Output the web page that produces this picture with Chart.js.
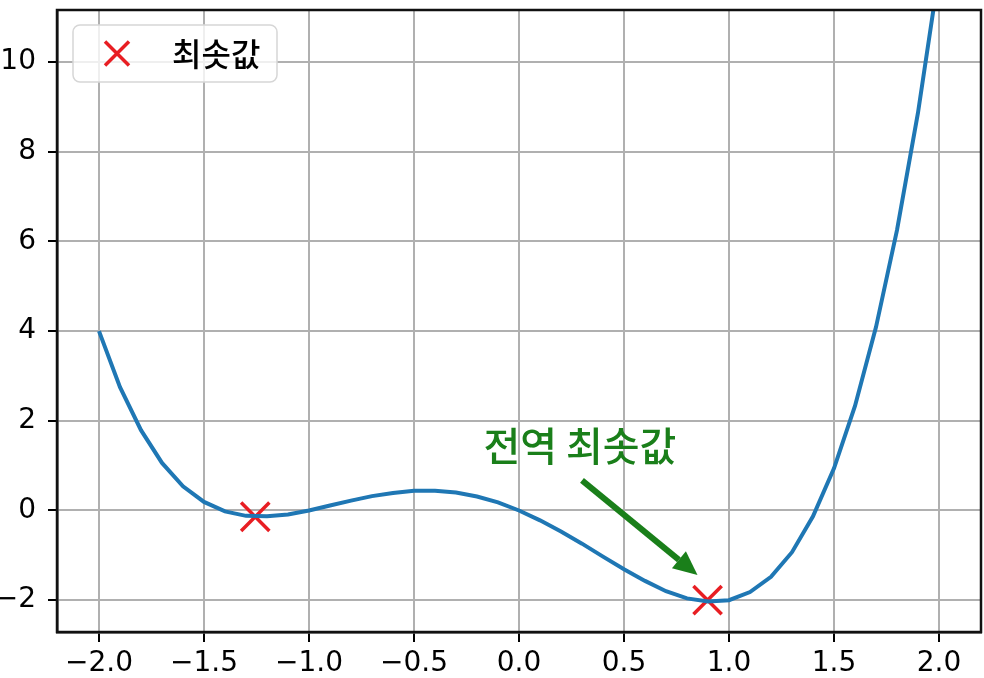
<!DOCTYPE html>
<html>
<head>
<meta charset="utf-8">
<script src="https://cdn.jsdelivr.net/npm/chart.js@4.4.1/dist/chart.umd.min.js"></script>
<style>
  html, body { margin: 0; padding: 0; background: #fff; }
</style>
</head>
<body>
<canvas id="chart" width="984" height="678"></canvas>
<script>
// curve samples
const xValues = [-2.0, -1.9, -1.8, -1.7, -1.6, -1.5, -1.4, -1.3, -1.2, -1.1, -1.0,
  -0.9, -0.8, -0.7, -0.6, -0.5, -0.4, -0.3, -0.2, -0.1, 0.0,
  0.1, 0.2, 0.3, 0.4, 0.5, 0.6, 0.7, 0.8, 0.9, 1.0,
  1.1, 1.2, 1.3, 1.4, 1.5, 1.6, 1.7, 1.8, 1.9, 2.0];
const yValues = [4.00, 2.75, 1.79, 1.06, 0.54, 0.19, -0.02, -0.12, -0.13, -0.09, 0.00,
  0.11, 0.22, 0.32, 0.39, 0.44, 0.44, 0.40, 0.31, 0.18, 0.00,
  -0.22, -0.47, -0.74, -1.03, -1.31, -1.57, -1.80, -1.96, -2.03, -2.00,
  -1.82, -1.48, -0.93, -0.13, 0.94, 2.33, 4.09, 6.25, 8.87, 12.00];

// the two minima marked with red crosses
const minX = [-1.256, 0.898];
const minY = [-0.14, -2.0];

const xTicks = [-2.0, -1.5, -1.0, -0.5, 0.0, 0.5, 1.0, 1.5, 2.0];
const yTicks = [-2, 0, 2, 4, 6, 8, 10];

const legendLabel = '최솟값';
const noteText = '전역 최솟값';

const curveData = xValues.map((x, i) => ({ x: x, y: yValues[i] }));
const minData = minX.map((x, i) => ({ x: x, y: minY[i] }));

function fmt(v, digits) {
  const s = Math.abs(v).toFixed(digits);
  return (v < 0 ? '\u2212' : '') + s;
}

const frameAndExtras = {
  id: 'frameAndExtras',
  afterDatasetsDraw(chart) {
    const ctx = chart.ctx;
    const a = chart.chartArea;
    const xs = chart.scales.x, ys = chart.scales.y;
    ctx.save();

    // annotation arrow
    const x0 = xs.getPixelForValue(0.30), y0 = ys.getPixelForValue(0.67);
    const x1 = xs.getPixelForValue(0.85), y1 = ys.getPixelForValue(-1.44);
    const ang = Math.atan2(y1 - y0, x1 - x0);
    const headLen = 24, headW = 11;
    const bx = x1 - headLen * Math.cos(ang), by = y1 - headLen * Math.sin(ang);
    ctx.strokeStyle = '#1a7f1a';
    ctx.fillStyle = '#1a7f1a';
    ctx.lineWidth = 6;
    ctx.beginPath();
    ctx.moveTo(x0, y0);
    ctx.lineTo(bx, by);
    ctx.stroke();
    ctx.beginPath();
    ctx.moveTo(x1, y1);
    ctx.lineTo(bx + headW * Math.sin(ang), by - headW * Math.cos(ang));
    ctx.lineTo(bx - headW * Math.sin(ang), by + headW * Math.cos(ang));
    ctx.closePath();
    ctx.fill();

    ctx.font = '500 40px "Noto Sans CJK KR"';
    ctx.textAlign = 'center';
    ctx.textBaseline = 'middle';
    ctx.fillText(noteText, xs.getPixelForValue(0.29), ys.getPixelForValue(1.45));

    // frame around the plot
    ctx.strokeStyle = '#111';
    ctx.lineWidth = 2.5;
    ctx.strokeRect(a.left, a.top, a.right - a.left, a.bottom - a.top);

    // legend box
    const lx = a.left + 16, ly = a.top + 15, lw = 204, lh = 57, r = 7;
    ctx.beginPath();
    ctx.roundRect(lx, ly, lw, lh, r);
    ctx.fillStyle = 'rgba(255,255,255,0.8)';
    ctx.fill();
    ctx.strokeStyle = '#d6d6d6';
    ctx.lineWidth = 1.5;
    ctx.stroke();

    const mx = lx + 44, my = ly + lh / 2, m = 12;
    ctx.strokeStyle = 'rgb(232,30,35)';
    ctx.lineWidth = 3.5;
    ctx.beginPath();
    ctx.moveTo(mx - m, my - m); ctx.lineTo(mx + m, my + m);
    ctx.moveTo(mx - m, my + m); ctx.lineTo(mx + m, my - m);
    ctx.stroke();

    ctx.fillStyle = '#000';
    ctx.font = '500 32px "Noto Sans CJK KR"';
    ctx.textAlign = 'left';
    ctx.textBaseline = 'middle';
    ctx.fillText(legendLabel, lx + 99, my);
    ctx.restore();
  }
};

const tickFont = { family: 'DejaVu Sans', size: 28 };

new Chart(document.getElementById('chart'), {
  type: 'scatter',
  data: {
    datasets: [
      {
        label: '',
        data: curveData,
        showLine: true,
        borderColor: '#1f77b4',
        borderWidth: 4,
        pointRadius: 0,
        tension: 0
      },
      {
        label: legendLabel,
        data: minData,
        pointStyle: 'crossRot',
        pointRadius: 20,
        borderColor: 'rgb(232,30,35)',
        backgroundColor: 'rgb(232,30,35)',
        pointBorderWidth: 3.5
      }
    ]
  },
  options: {
    responsive: false,
    animation: false,
    devicePixelRatio: 1,
    layout: { autoPadding: false, padding: { top: 10, right: 3, left: 0, bottom: 0 } },
    plugins: {
      legend: { display: false },
      tooltip: { enabled: false }
    },
    scales: {
      x: {
        type: 'linear',
        min: -2.2,
        max: 2.2,
        afterBuildTicks: s => { s.ticks = xTicks.map(v => ({ value: v })); },
        afterFit: s => { s.height = 46; s.paddingLeft = 0; s.paddingRight = 0; },
        ticks: {
          callback: v => fmt(v, 1),
          font: tickFont,
          color: '#000',
          padding: 5,
          maxRotation: 0,
          autoSkip: false
        },
        grid: { color: '#b0b0b0', lineWidth: 2, tickLength: 10, tickColor: '#000', tickWidth: 2 },
        border: { color: '#111', width: 2.5 }
      },
      y: {
        type: 'linear',
        min: -2.71,
        max: 11.16,
        afterBuildTicks: s => { s.ticks = yTicks.map(v => ({ value: v })); },
        afterFit: s => { s.width = 57; s.paddingTop = 0; s.paddingBottom = 0; },
        ticks: {
          callback: v => fmt(v, 0),
          font: tickFont,
          color: '#000',
          padding: 12,
          autoSkip: false
        },
        grid: { color: '#b0b0b0', lineWidth: 2, tickLength: 9, tickColor: '#000', tickWidth: 2 },
        border: { color: '#111', width: 2.5 }
      }
    }
  },
  plugins: [frameAndExtras]
});
</script>
</body>
</html>
